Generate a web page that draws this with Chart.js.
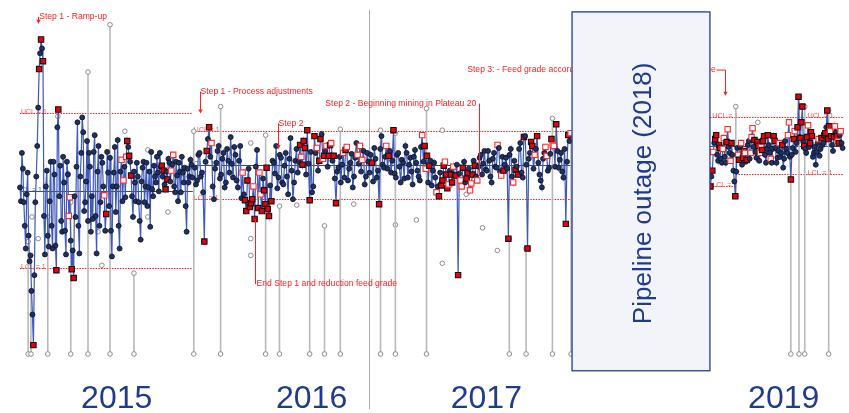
<!DOCTYPE html>
<html><head><meta charset="utf-8">
<script src="https://cdn.jsdelivr.net/npm/chart.js@4.4.1/dist/chart.umd.min.js"></script>
<style>html,body{margin:0;padding:0;background:#fff;overflow:hidden}</style>
</head><body>
<canvas id="c" width="849" height="413"></canvas>
<script>
// ---------- DATA (x = day since 1 Jan 2015, y = grade value) ----------
// Each phase: A = samples on the main grid, B = samples half a step later
const seg1Start = 0, seg1Step = 4;
const seg1Values = [
 1.69,2.04,1.54,1.07,1.84,0.94,0.64,0.09,1.54,2.11,
 2.89,3.19,2.97,1.01,1.86,1.09,1.95,1.07,1.82,0.85,
 2.48,1.91,1.24,1.74,1.01,1.82,1.59,0.86,0.77,1.39,
 2.35,1.02,2.04,2.25,1.54,2.16,2.04,1.24,1.37,2.22,
 1.02,2.11,1.54,1.94,1.61,1.42,1.84,1.99,0.99,1.84,
 1.44,2.17,1.07,1.97,1.76,1.59,2.16,2.01,1.81,1.39,
 1.74,1.94,1.54,1.16,1.89,1.54,1.94,1.69,1.29,1.67,
 1.91,1.74,1.84,2.04,1.91,1.86,1.67,1.77,1.94,1.86,
 2.02,1.64,1.81,1.94,1.64,1.84,1.89,1.24,1.74,1.97,
 1.79];
const seg1Red = [7,10,11,12,19,20,27,28,45,56,57,58,74,75,76,77];
const seg1Hollow = [26,44,53,54,79,80];
const seg1ValuesB = [
 1.55,1.88,1.30,1.62,1.20,1.00,0.40,0.80,1.80,2.50,
 3.05,3.10,1.40,1.70,1.20,1.55,1.30,1.95,1.10,2.30,
 1.60,1.35,2.00,1.25,1.95,1.40,1.15,1.05,1.60,1.90,
 1.30,1.80,2.40,1.45,1.75,1.35,1.90,1.60,2.05,1.40,
 1.85,1.30,2.00,1.70,1.25,2.05,1.50,1.25,1.70,2.10,
 1.70,1.30,1.85,1.55,1.90,2.00,2.10,1.95,1.60,1.85,
 1.55,1.80,1.35,1.75,1.95,1.70,1.50,1.85,2.05,1.60,
 1.80,2.00,1.65,1.90,1.80,1.72,1.85,1.98,1.75,1.92,
 1.70,1.95,1.55,1.85,2.00,1.74,1.50,1.88,1.80,1.92];
const seg1RedB = [];
const seg1HollowB = [25,55];

const seg2Start = 365, seg2Step = 5;
const seg2Values = [
 1.89,1.76,2.04,1.84,1.14,2.06,2.30,2.14,1.57,1.94,
 2.11,1.82,2.04,1.74,1.96,2.20,1.79,2.02,1.69,2.11,
 1.84,1.56,1.76,1.49,1.57,1.37,2.07,1.84,1.45,1.66,
 1.89,1.40,1.55,1.94,2.11,1.79,1.99,1.72,2.04,1.62,
 2.19,1.57,1.96,1.84,2.12,1.92,2.09,2.27,1.56,1.64,
 2.21,2.09,1.96,2.23,2.01,2.11,2.01,2.14,2.01,1.53,
 1.89,1.74,2.04,2.07,1.76,1.94,1.69,1.99,2.02,2.11,
 1.97,1.72,2.04,1.84,1.94,2.09,1.79,1.52,2.21,1.89,
 2.11,2.01,1.84,2.27,1.79,2.04,1.74,1.94,2.11,1.79,
 1.99,1.72,2.07,1.86,1.76,2.22,2.11,2.01,1.91,1.71,
 1.94,1.64,1.60,1.71,1.91,1.82,1.72,1.82,1.90,1.81,
 0.80,1.76,1.89,1.74,1.84,1.66,1.82,1.91,1.76,1.99,
 1.82,2.06,1.86,1.96,1.74,2.04,1.89,2.09,1.81,1.86,
 1.99,1.17,2.08,1.74,1.87,1.82,2.14,1.79,2.21,1.07,
 2.04,2.11,2.02,2.21,1.82,1.69,2.04,2.01,1.89,2.18,
 2.11,2.33,1.89,2.04,1.79,1.32,2.22,2.24];
const seg2Red = [4,5,6,21,22,23,24,25,28,29,30,31,32,44,45,46,47,48,50,52,54,56,58,59,63,74,77,81,83,96,97,98,102,103,104,105,107,109,110,112,114,116,117,129,131,134,135,139,141,143,149,151,155,156];
const seg2Hollow = [7,20,27,51,55,57,62,68,69,70,80,95,101,106,108,111,115,118,128,133,142,147,150,157];
const seg2ValuesB = [
 1.72,2.02,1.80,1.64,1.95,2.18,2.00,1.70,1.88,2.06,
 1.78,1.98,1.69,2.08,1.84,1.93,2.10,1.76,1.96,1.58,
 1.62,1.45,1.88,1.53,1.70,1.90,1.48,1.62,1.78,1.52,
 1.47,1.71,1.96,1.83,1.68,2.02,1.74,1.91,1.80,1.98,
 1.86,1.74,2.08,1.95,2.00,2.16,1.82,1.93,2.05,1.70,
 2.04,1.86,2.18,1.98,2.06,1.90,2.12,1.96,1.78,1.85,
 2.00,1.92,1.79,2.10,1.88,2.03,1.80,2.14,1.93,1.85,
 2.06,1.80,1.95,2.02,1.75,1.98,1.86,2.08,1.92,2.00,
 1.88,2.06,1.96,1.83,2.02,1.90,1.97,1.78,2.04,1.92,
 1.85,2.00,1.94,1.80,2.10,1.95,1.88,1.74,1.96,1.86,
 1.79,1.70,1.84,1.76,1.95,1.68,1.86,1.74,1.81,1.92,
 1.83,1.70,1.95,1.78,1.88,1.73,1.96,1.80,1.90,2.02,
 1.93,1.87,2.06,1.80,1.98,1.90,2.12,1.85,2.00,1.92,
 1.88,2.02,1.80,1.96,1.90,2.08,1.84,2.20,1.92,1.98,
 2.15,1.88,2.08,1.94,1.76,1.98,2.10,1.86,2.03,2.12,
 1.90,2.06,1.97,1.85,2.08,1.95,2.16];
const seg2RedB = [21,23,26,29,30,45,52,56,103,105,107,113,137,140];
const seg2HollowB = [24,27,44,53,63,96,104,111,115,126,146,149];

const seg3Start = 1442, seg3Step = 4;
const seg3Values = [
 1.70,1.86,2.14,2.22,1.96,2.09,1.94,2.19,1.94,2.28,
 2.04,2.14,1.86,1.60,2.09,1.97,2.14,1.99,2.04,1.97,
 2.16,2.04,2.29,2.17,1.99,2.11,2.04,2.07,2.21,1.94,
 2.22,2.04,1.94,2.21,2.09,1.99,2.14,2.04,1.89,2.16,
 2.04,2.35,1.77,2.09,2.26,2.14,2.61,2.19,2.51,2.11,
 2.04,2.32,2.14,2.21,2.04,1.92,2.14,2.01,2.19,2.14,
 2.24,2.47,2.31,2.21,2.06,2.31,2.21,2.14,2.26,2.09];
const seg3Red = [0,1,3,5,11,13,15,17,19,23,25,27,28,30,33,42,46,47,48,49,52,53,58,60,61,62,63,66,67];
const seg3Hollow = [7,9,16,18,21,22,26,36,41,44,51,65,68];
const seg3ValuesB = [
 1.80,2.05,2.18,2.02,2.12,1.98,2.08,2.00,2.15,2.10,
 1.96,2.02,1.75,1.85,2.02,2.10,1.92,2.06,1.95,2.12,
 1.98,2.20,2.10,2.05,2.15,1.96,2.10,2.16,2.02,2.08,
 2.12,1.98,2.08,2.16,1.94,2.06,2.00,2.12,1.98,2.08,
 2.22,2.00,2.02,2.18,2.05,2.30,2.20,2.35,2.15,2.08,
 2.20,2.10,2.25,2.00,2.10,2.05,2.18,2.08,2.12,2.22,
 2.30,2.18,2.26,2.12,2.20,2.25,2.16,2.22,2.14];
const seg3RedB = [2,4,8,17,24,27,33,37,43,45,47,50,52,59,61,64];
const seg3HollowB = [1,6,10,14,21,26,31,40,56,62,66];

// excluded samples (grey): stems from base to top, plus loose points
const grayStemDay  = [17,23,58,106,142,188,238,363, 419,513,542,605,636,669,753,784,849,1022,1057,1112,1151, 1495,1610,1627,1639,1689];
const grayStemTop  = [1.14,0.64,1.39,1.54,2.86,3.34,0.82,2.26, 2.51,2.22,1.50,2.04,1.30,2.28,2.27,2.24,2.49,1.17,1.07,2.39,2.24, 2.51,1.77,2.61,2.51,2.47];
const grayStemBase = [0,0,0,0,0,0,0,0, 0,0,0,0,0,0,0,0,0,0,0,0,0, 1.60,0,0,0,0];
const grayPtDay = [79,219,171,267,267,309,321,38,25,100,344,163, 482,482,482,442,578,697,784,828,882,932,966,997,882, 1541];
const grayPtVal = [2.41,2.26,0.90,2.07,1.39,1.44,2.00,1.17,1.39,1.83,1.87,1.24, 2.14,1.17,1.00,1.82,1.51,1.52,1.31,1.36,0.92,1.62,1.28,1.05,2.27, 2.35];

// control limits per phase
const limitStart = [0, 361, 1441, 1495];
const limitEnd   = [361, 1153, 1495, 1721];
const limitUCL   = [2.44, 2.26, 2.40, 2.40];
const limitLCL   = [0.87, 1.57, 1.70, 1.83];
const limitCL    = [1.65, 1.92, 2.11, 2.11];
const limitLabelDay = [0, 361, 1444, 1643];
const limitLabelUCL = 'UCL = 1';
const limitLabelLCL = 'LCL = 1';
const limitLabelCL  = 'CL = 1';

const yearLabels = ['2015','2016','2017','2019'];
const yearDays   = [202, 609, 974, 1595];

const outageLabel = 'Pipeline outage (2018)';
const outageStart = 1153, outageEnd = 1441;

const notes = [
 {text:'Step 1 - Ramp-up', day:38, value:3.42, align:'left', lineDay:38, from:3.42, to:3.35, arrow:true},
 {text:'Step 1 - Process adjustments', day:375, value:2.66, align:'left', lineDay:375, from:2.66, to:2.44, arrow:true},
 {text:'Step 2', day:538, value:2.34, align:'left', lineDay:538, from:2.34, to:2.08, arrow:true},
 {text:'Step 2 - Beginning mining in Plateau 20', day:955, value:2.54, align:'right', lineDay:959, from:2.54, to:1.82, arrow:false},
 {text:'End Step 1 and reduction feed grade', day:492, value:0.71, align:'left', lineDay:490, from:1.37, to:0.71, arrow:false},
 {text:'Step 3: - Feed grade according to the production plan of the mine', day:932, value:2.88, align:'left', lineDay:1472, from:2.88, to:2.62, arrow:true, connect:true}
];

// ---------- BUILD ----------
function buildMain(start, step, A, redA, holA, B, redB, holB) {
  const pts = [];
  const fA = i => redA.includes(i) ? 1 : (holA.includes(i) ? 2 : 0);
  const fB = i => redB.includes(i) ? 1 : (holB.includes(i) ? 2 : 0);
  A.forEach((v, i) => {
    pts.push({x: start + i * step, y: v, f: fA(i)});
    if (i < B.length) pts.push({x: start + (i + 0.5) * step, y: B[i], f: fB(i)});
  });
  return pts;
}
const F = 'Arial, "Liberation Sans", sans-serif';
function mainDs(points) {
  const fl = c => (c.raw && c.raw.f) || 0;
  return {
    type: 'line', data: points, order: 1, clip: false,
    borderColor: '#3e59b9', borderWidth: 1.2, tension: 0, fill: false,
    pointStyle: c => fl(c) ? 'rect' : 'circle',
    pointRadius: c => fl(c) ? 3.8 : 2.5,
    pointBackgroundColor: c => fl(c) === 1 ? '#e8000b' : (fl(c) === 2 ? '#ffffff' : '#1f3262'),
    pointBorderColor: c => fl(c) === 1 ? '#111111' : (fl(c) === 2 ? '#ff2a2a' : '#0a0f25'),
    pointBorderWidth: c => fl(c) ? 1.1 : 0.8,
    pointHoverRadius: 0
  };
}
const stemPts = [];
grayStemDay.forEach((d, i) => {
  stemPts.push({x: d, y: grayStemBase[i]}, {x: d, y: grayStemTop[i]}, {x: d, y: null});
});
const grayPts = grayPtDay.map((d, i) => ({x: d, y: grayPtVal[i]}));
const grayStyle = {
  pointStyle: 'circle', pointRadius: 2.3, pointBackgroundColor: '#ffffff',
  pointBorderColor: '#8c8c8c', pointBorderWidth: 1, clip: false, order: 5
};

const deco = {
  id: 'deco',
  beforeDatasetsDraw(chart) {
    const {ctx, scales: {x, y}} = chart;
    ctx.save();
    const dx = Math.round(x.getPixelForValue(728)) + 0.5;
    ctx.strokeStyle = '#a9a9a9'; ctx.lineWidth = 1;
    ctx.beginPath(); ctx.moveTo(dx, y.getPixelForValue(3.49)); ctx.lineTo(dx, y.getPixelForValue(-0.56)); ctx.stroke();
    for (let i = 0; i < limitStart.length; i++) {
      const x0 = x.getPixelForValue(limitStart[i]), x1 = x.getPixelForValue(limitEnd[i]);
      ctx.setLineDash([1.5, 1.2]); ctx.strokeStyle = '#ff1a1a'; ctx.lineWidth = 1;
      [limitUCL[i], limitLCL[i]].forEach(v => {
        const py = Math.round(y.getPixelForValue(v)) + 0.5;
        ctx.beginPath(); ctx.moveTo(x0, py); ctx.lineTo(x1, py); ctx.stroke();
      });
      ctx.setLineDash([]); ctx.strokeStyle = '#4a4a4a';
      const pc = Math.round(y.getPixelForValue(limitCL[i])) + 0.5;
      ctx.beginPath(); ctx.moveTo(x0, pc); ctx.lineTo(x1, pc); ctx.stroke();
      const lx = x.getPixelForValue(limitLabelDay[i]) + 1;
      ctx.font = '7px ' + F; ctx.textAlign = 'left'; ctx.textBaseline = 'alphabetic';
      ctx.fillStyle = '#ff5050';
      ctx.fillText(limitLabelUCL, lx, y.getPixelForValue(limitUCL[i]) + 1);
      ctx.fillText(limitLabelLCL, lx, y.getPixelForValue(limitLCL[i]) + 1);
      ctx.fillStyle = '#4060d0';
      ctx.fillText(limitLabelCL, lx, y.getPixelForValue(limitCL[i]) + 1);
    }
    ctx.restore();
  },
  afterDatasetsDraw(chart) {
    const {ctx, scales: {x, y}} = chart;
    ctx.save();
    ctx.font = '8.6px ' + F; ctx.fillStyle = '#ff2020'; ctx.strokeStyle = '#ff2020'; ctx.lineWidth = 1;
    notes.forEach(n => {
      const tx = x.getPixelForValue(n.day), ty = y.getPixelForValue(n.value);
      ctx.textAlign = n.align; ctx.textBaseline = 'middle';
      ctx.fillText(n.text, tx + (n.align === 'left' ? 1 : -1), ty);
      const lx = Math.round(x.getPixelForValue(n.lineDay)) + 0.5;
      const y0 = y.getPixelForValue(n.from), y1 = y.getPixelForValue(n.to);
      if (n.connect) {
        const w = ctx.measureText(n.text).width;
        ctx.beginPath(); ctx.moveTo(tx + w + 2, ty); ctx.lineTo(lx, ty); ctx.stroke();
      }
      ctx.beginPath(); ctx.moveTo(lx, y0); ctx.lineTo(lx, n.arrow ? y1 - 3 : y1); ctx.stroke();
      if (n.arrow) {
        ctx.beginPath(); ctx.moveTo(lx - 2.2, y1 - 4); ctx.lineTo(lx + 2.2, y1 - 4); ctx.lineTo(lx, y1); ctx.closePath(); ctx.fill();
      }
    });
    const bx0 = x.getPixelForValue(outageStart), bx1 = x.getPixelForValue(outageEnd);
    const by0 = y.getPixelForValue(3.47), by1 = y.getPixelForValue(-0.17);
    ctx.fillStyle = '#f3f4f9'; ctx.fillRect(bx0, by0, bx1 - bx0, by1 - by0);
    ctx.strokeStyle = '#233f8e'; ctx.lineWidth = 1.3; ctx.strokeRect(bx0, by0, bx1 - bx0, by1 - by0);
    ctx.save();
    ctx.translate((bx0 + bx1) / 2 + 3, (by0 + by1) / 2 + 2);
    ctx.rotate(-Math.PI / 2);
    ctx.font = '26px ' + F; ctx.fillStyle = '#1f3b8c'; ctx.textAlign = 'center'; ctx.textBaseline = 'middle';
    ctx.fillText(outageLabel, 0, 0);
    ctx.restore();
    ctx.font = '32px ' + F; ctx.fillStyle = '#1f3b8c'; ctx.textAlign = 'center'; ctx.textBaseline = 'alphabetic';
    yearLabels.forEach((t, i) => ctx.fillText(t, x.getPixelForValue(yearDays[i]), 408));
    ctx.restore();
  }
};

new Chart(document.getElementById('c'), {
  data: {
    datasets: [
      mainDs(buildMain(seg1Start, seg1Step, seg1Values, seg1Red, seg1Hollow, seg1ValuesB, seg1RedB, seg1HollowB)),
      mainDs(buildMain(seg2Start, seg2Step, seg2Values, seg2Red, seg2Hollow, seg2ValuesB, seg2RedB, seg2HollowB)),
      mainDs(buildMain(seg3Start, seg3Step, seg3Values, seg3Red, seg3Hollow, seg3ValuesB, seg3RedB, seg3HollowB)),
      Object.assign({type: 'line', data: stemPts, borderColor: '#b9b9b9', borderWidth: 1.6, spanGaps: false, tension: 0}, grayStyle),
      Object.assign({type: 'scatter', data: grayPts, showLine: false}, grayStyle)
    ]
  },
  options: {
    responsive: false, animation: false, devicePixelRatio: 1,
    layout: {padding: {left: 20, right: 4, top: 0, bottom: 59}},
    scales: {
      x: {type: 'linear', min: 0, max: 1721, display: false},
      y: {type: 'linear', min: 0, max: 3.54, display: false}
    },
    plugins: {legend: {display: false}, tooltip: {enabled: false}},
    events: []
  },
  plugins: [deco]
});
</script>
</body></html>
